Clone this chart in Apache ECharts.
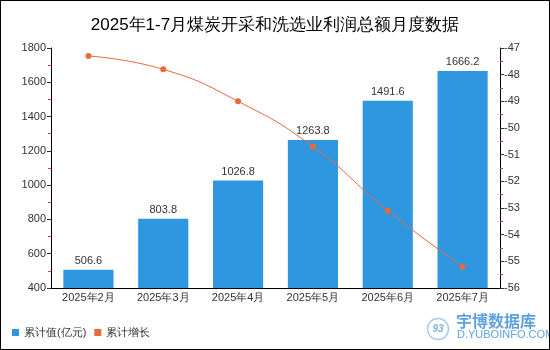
<!DOCTYPE html>
<html>
<head>
<meta charset="utf-8">
<script src="https://cdn.jsdelivr.net/npm/echarts@6/dist/echarts.min.js"></script>
<style>
  html, body { margin: 0; padding: 0; }
  #chart { width: 550px; height: 350px; box-sizing: border-box; border: 1px solid #000; }
</style>
</head>
<body>
<div id="chart"></div>
<script>
// chart data
var months = ['2025年2月', '2025年3月', '2025年4月', '2025年5月', '2025年6月', '2025年7月']
var totalValues = [506.6, 803.8, 1026.8, 1263.8, 1491.6, 1666.2]
var growthValues = [-47.3, -47.8, -49.0, -50.7, -53.1, -55.2]

var chart = echarts.init(document.getElementById('chart'))
var labelFont = 'sans-serif'

chart.setOption({
  backgroundColor: '#fff',
  animation: false,
  title: {
    text: '2025年1-7月煤炭开采和洗选业利润总额月度数据',
    left: 'center',
    top: 11,
    textStyle: {
      fontSize: 17,
      fontWeight: 'normal',
      color: '#000',
      fontFamily: labelFont
    }
  },
  legend: {
    left: 6,
    top: 321,
    itemWidth: 7,
    itemHeight: 7,
    itemGap: 8,
    textStyle: { fontSize: 11, color: '#333', fontFamily: labelFont },
    data: [
      { name: '累计值(亿元)', icon: 'rect' },
      { name: '累计增长', icon: 'rect' }
    ]
  },
  grid: {
    left: 50,
    right: 49,
    top: 47,
    bottom: 61
  },
  xAxis: {
    type: 'category',
    data: months,
    axisLine: { lineStyle: { color: '#000' } },
    axisTick: { alignWithLabel: true, length: 4, lineStyle: { color: '#333' } },
    axisLabel: { color: '#333', fontSize: 11, margin: 4, fontFamily: labelFont }
  },
  yAxis: [{
    type: 'value',
    min: 400,
    max: 1800,
    interval: 200,
    axisLine: { show: true, lineStyle: { color: '#000' } },
    axisTick: { show: true, length: 4, lineStyle: { color: '#333' } },
    minorTick: { show: true, splitNumber: 2, length: 3, lineStyle: { color: '#e33' } },
    splitLine: { show: false },
    axisLabel: {
      color: '#333',
      fontSize: 11,
      margin: 5,
      fontFamily: labelFont,
      formatter: function (v) { return String(v) }
    }
  }, {
    type: 'value',
    min: -56,
    max: -47,
    interval: 1,
    position: 'right',
    axisLine: { show: true, lineStyle: { color: '#000' } },
    axisTick: { show: true, length: 4, lineStyle: { color: '#333' } },
    minorTick: { show: true, splitNumber: 2, length: 3, lineStyle: { color: '#e33' } },
    splitLine: { show: false },
    axisLabel: { color: '#333', fontSize: 11, margin: 4, fontFamily: labelFont }
  }],
  series: [{
    name: '累计值(亿元)',
    type: 'bar',
    data: totalValues,
    barWidth: '67%',
    itemStyle: { color: '#2f96e0' },
    label: {
      show: true,
      position: 'top',
      distance: 3,
      color: '#333',
      fontSize: 11,
      fontFamily: labelFont
    }
  }, {
    name: '累计增长',
    type: 'line',
    yAxisIndex: 1,
    data: growthValues,
    smooth: true,
    symbol: 'circle',
    symbolSize: 6,
    itemStyle: { color: '#e8693a' },
    lineStyle: { color: '#e8693a', width: 1 }
  }],
  // watermark
  graphic: [{
    type: 'circle',
    shape: { cx: 437, cy: 328, r: 10.5 },
    style: { fill: 'none', stroke: '#a9cbec', lineWidth: 1.5 }
  }, {
    type: 'text',
    x: 437,
    y: 328,
    style: {
      text: '93', fill: '#7fb2e0', font: 'italic bold 10px sans-serif',
      align: 'center', verticalAlign: 'middle'
    }
  }, {
    type: 'text',
    x: 455,
    y: 320,
    style: {
      text: '宇博数据库', fill: '#5ea3e0', font: 'bold 16px "Noto Sans CJK SC", sans-serif',
      verticalAlign: 'middle'
    }
  }, {
    type: 'text',
    x: 456,
    y: 334,
    style: { text: 'D.YUBOINFO.COM', fill: '#5ea3e0', font: '11px sans-serif', verticalAlign: 'middle' }
  }]
})
</script>
</body>
</html>
